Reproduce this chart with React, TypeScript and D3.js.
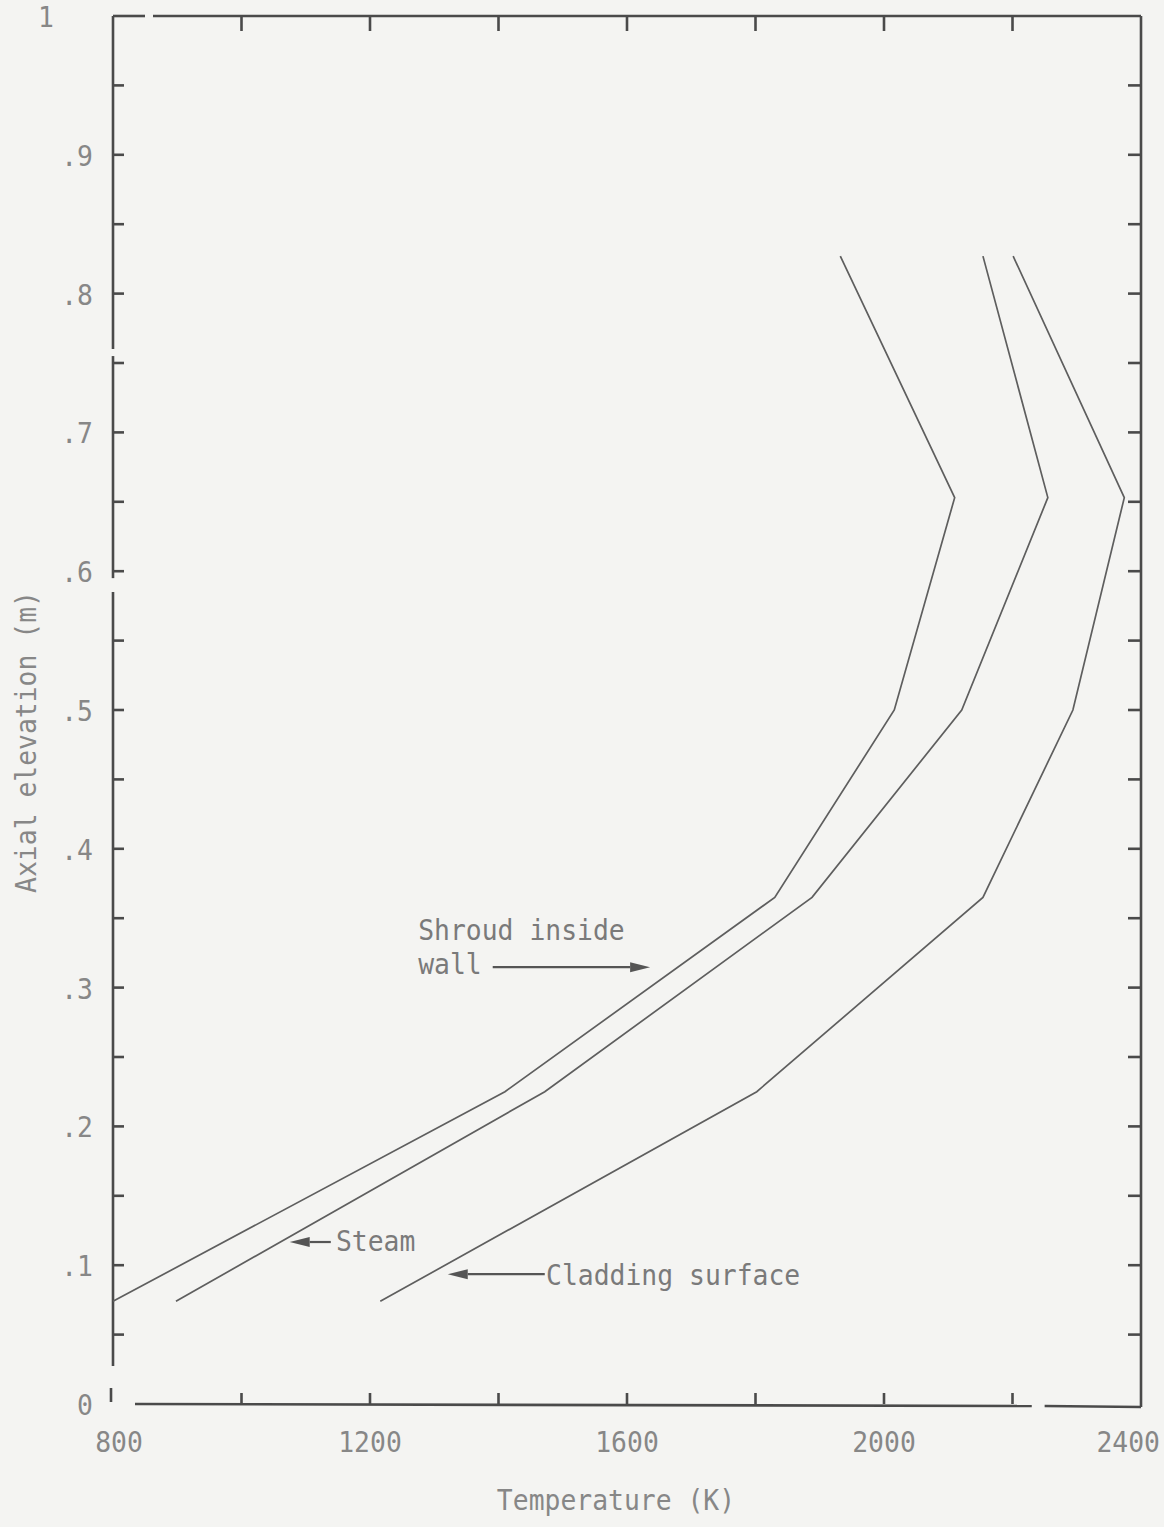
import React from "react";
import * as d3 from "d3";

// ---- data ----
const elevation = [0.074, 0.225, 0.365, 0.5, 0.653, 0.827];
const shroudTemp = [800, 1410, 1830, 2016, 2110, 1932];
const steamTemp = [898, 1472, 1888, 2121, 2255, 2154];
const claddingTemp = [1216, 1802, 2154, 2294, 2374, 2201];

const xTickValues = [800, 1000, 1200, 1400, 1600, 1800, 2000, 2200, 2400];
const xTickLabels = [
  { v: 800, t: "800" },
  { v: 1200, t: "1200" },
  { v: 1600, t: "1600" },
  { v: 2000, t: "2000" },
  { v: 2400, t: "2400" },
];
const yTickValues = [0.05, 0.1, 0.15, 0.2, 0.25, 0.3, 0.35, 0.4, 0.45, 0.5, 0.55, 0.6, 0.65, 0.7, 0.75, 0.8, 0.85, 0.9, 0.95];
const yTickLabels = [
  { v: 0, t: "0" }, { v: 0.1, t: ".1" }, { v: 0.2, t: ".2" }, { v: 0.3, t: ".3" },
  { v: 0.4, t: ".4" }, { v: 0.5, t: ".5" }, { v: 0.6, t: ".6" }, { v: 0.7, t: ".7" },
  { v: 0.8, t: ".8" }, { v: 0.9, t: ".9" }, { v: 1, t: "1" },
];

// annotation anchors in data units
const annotations = [
  { lines: ["Shroud inside", "wall"], textT: 1275, textE: [0.334, 0.310], arrowFrom: [1391, 0.3147], arrowTo: [1636, 0.3147] },
  { lines: ["Steam"], textT: 1147, textE: [0.110], arrowFrom: [1139, 0.1167], arrowTo: [1075, 0.1167] },
  { lines: ["Cladding surface"], textT: 1474, textE: [0.0857], arrowFrom: [1472, 0.0935], arrowTo: [1321, 0.0935] },
];

const W = 1164;
const H = 1527;
const FONT = "'DejaVu Sans Mono', monospace";
const TEXT_COLOR = "#878787";
const LINE_COLOR = "#5e5e5e";
const AXIS_COLOR = "#4a4a4a";

function T({ x, y, children, anchor = "start", rotate = 0, size = 29, fill = TEXT_COLOR }: any) {
  return (
    <text
      transform={`translate(${x},${y}) rotate(${rotate}) scale(0.91,1)`}
      textAnchor={anchor}
      fontFamily={FONT}
      fontSize={size}
      fill={fill}
    >
      {children}
    </text>
  );
}

export default function App() {
  const x = d3.scaleLinear().domain([800, 2400]).range([113, 1141]);
  const y = d3.scaleLinear().domain([0, 1]).range([1404, 16]);
  const [x0, x1] = x.range();
  const [yb, yt] = y.range();

  const line = d3
    .line<[number, number]>()
    .x((d) => x(d[0]))
    .y((d) => y(d[1]));

  const series = [shroudTemp, steamTemp, claddingTemp].map((temps) =>
    temps.map((t, i) => [t, elevation[i]] as [number, number])
  );

  const tickLen = 11;

  return (
    <svg width={W} height={H} style={{ position: "absolute", left: 0, top: 0 }}>
      <rect x={0} y={0} width={W} height={H} fill="#f4f4f2" />

      {/* axes frame with scan gaps */}
      <g stroke={AXIS_COLOR} strokeWidth={2.6} fill="none">
        <line x1={x0} y1={yt} x2={x0 + 32} y2={yt} />
        <line x1={x0 + 40} y1={yt} x2={x1} y2={yt} />
        <line x1={x1} y1={yt} x2={x1} y2={yb + 3} />
        <line x1={x0 + 22} y1={yb} x2={x(2230)} y2={yb + 2} />
        <line x1={x(2250)} y1={yb + 2} x2={x1} y2={yb + 3} />
        <line x1={x0} y1={yt} x2={x0} y2={y(0.76)} />
        <line x1={x0} y1={y(0.755)} x2={x0} y2={y(0.595)} />
        <line x1={x0} y1={y(0.585)} x2={x0} y2={yb - 38} />
        <line x1={x0 - 2} y1={yb - 16} x2={x0 - 2} y2={yb - 2} />
      </g>

      {/* ticks */}
      <g stroke={AXIS_COLOR} strokeWidth={2.6}>
        {xTickValues.slice(1, -1).map((v) => (
          <g key={"xt" + v}>
            <line x1={x(v)} y1={yb} x2={x(v)} y2={yb - tickLen} />
            <line x1={x(v)} y1={yt} x2={x(v)} y2={yt + 15} />
          </g>
        ))}
        {yTickValues.map((v) => (
          <g key={"yt" + v}>
            <line x1={x0} y1={y(v)} x2={x0 + tickLen} y2={y(v)} />
            <line x1={x1} y1={y(v)} x2={x1 - 13} y2={y(v)} />
          </g>
        ))}
      </g>

      {/* tick labels */}
      {xTickLabels.map((d, i) => {
        const last = i === xTickLabels.length - 1;
        return (
          <T key={"xl" + d.v} x={last ? x(d.v) + 19 : x(d.v) + (i === 0 ? 6 : 0)} y={1452} anchor={last ? "end" : "middle"}>
            {d.t}
          </T>
        );
      })}
      {yTickLabels.map((d) => (
        <T key={"yl" + d.v} x={d.v === 1 ? 54 : 93} y={y(d.v) + 11} anchor="end">
          {d.t}
        </T>
      ))}

      {/* axis titles */}
      <T x={616} y={1510} anchor="middle">Temperature (K)</T>
      <T x={36} y={742} anchor="middle" rotate={-90}>Axial elevation (m)</T>

      {/* series lines */}
      <g fill="none" stroke={LINE_COLOR} strokeWidth={1.7} strokeLinejoin="miter">
        {series.map((s, i) => (
          <path key={"s" + i} d={line(s) || ""} />
        ))}
      </g>

      {/* annotations */}
      {annotations.map((a, i) => {
        const fx = x(a.arrowFrom[0]);
        const fy = y(a.arrowFrom[1]);
        const tx = x(a.arrowTo[0]);
        const ty = y(a.arrowTo[1]);
        const dir = tx > fx ? 1 : -1;
        const head = 20;
        return (
          <g key={"a" + i}>
            {a.lines.map((l, j) => (
              <T key={j} x={x(a.textT)} y={y(a.textE[j])} fill="#7a7a7a">
                {l}
              </T>
            ))}
            <line x1={fx} y1={fy} x2={tx - dir * head} y2={ty} stroke="#555" strokeWidth={2.2} />
            <polygon
              points={`${tx},${ty} ${tx - dir * head},${ty - 5} ${tx - dir * head},${ty + 5}`}
              fill="#555"
            />
          </g>
        );
      })}
    </svg>
  );
}
